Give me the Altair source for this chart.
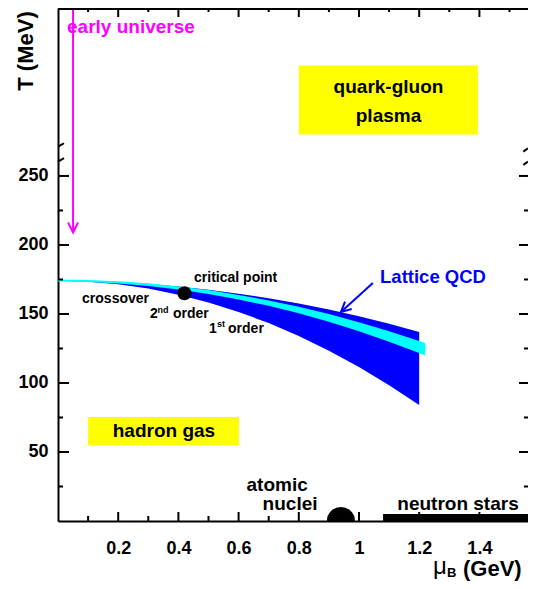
import altair as alt
import pandas as pd

# ---------------- data ----------------
# first-order transition band (blue)
band_mu = [0.0, 0.1, 0.2, 0.3, 0.4, 0.5, 0.6, 0.7, 0.8, 0.9, 1.0, 1.1, 1.2]
band_hi = [174.0, 173.7, 173.0, 171.7, 169.9, 167.6, 164.7, 161.4, 157.6, 153.2, 148.3, 142.9, 137.0]
band_lo = [174.0, 173.4, 171.5, 168.4, 164.0, 158.4, 151.5, 143.4, 134.0, 123.4, 111.5, 98.4, 84.0]

# Lattice QCD band (cyan)
lat_mu = [0.0, 0.1, 0.2, 0.3, 0.4, 0.5, 0.6, 0.7, 0.8, 0.9, 1.0, 1.1, 1.2, 1.22]
lat_hi = [175.0, 174.7, 173.8, 172.2, 170.0, 167.3, 163.8, 159.8, 155.2, 149.9, 144.0, 137.5, 130.4, 128.9]
lat_lo = [173.5, 173.1, 172.1, 170.3, 167.7, 164.5, 160.5, 155.9, 150.5, 144.3, 137.5, 129.9, 121.7, 119.9]

# critical point and atomic nuclei
crit_mu = [0.42]
crit_T = [165.0]
nuclei_mu = [0.94]
nuclei_T = [0.0]

# neutron stars bar
ns_mu = [1.08, 1.568]
ns_T = [0.0, 5.0]

# tick values
x_major = [0.2, 0.4, 0.6, 0.8, 1.0, 1.2, 1.4]
x_minor = [0.1, 0.3, 0.5, 0.7, 0.9, 1.1, 1.3, 1.5]
y_major = [50, 100, 150, 200, 250]
y_minor = [25, 75, 125, 175, 225]

# labelled boxes
box_text = ["qgp", "hadron"]
box_mu0 = [0.80, 0.10]
box_mu1 = [1.395, 0.601]
box_T0 = [280.0, 55.0]
box_T1 = [330.0, 75.4]

# annotations
big_labels = ["quark-gluon", "plasma", "hadron gas", "atomic", "nuclei", "neutron stars"]
big_mu = [1.098, 1.098, 0.352, 0.728, 0.771, 1.329]
big_T = [309.9, 289.3, 60.6, 21.7, 8.0, 8.0]

small_labels = ["critical point", "crossover", "2", "order", "1", "order"]
small_mu = [0.452, 0.080, 0.3056, 0.382, 0.5017, 0.565]
small_T = [173.0, 158.2, 146.9, 146.9, 136.0, 136.0]

sup_labels = ["nd", "st"]
sup_mu = [0.3306, 0.528]
sup_T = [150.7, 140.4]

# arrows
early_mu = [0.05, 0.05]
early_T = [371.7, 209.0]
lqcd_mu = [1.046, 0.94]
lqcd_T = [172.5, 151.4]

# break marks on the T axis
brk_mu0 = [0.0, 0.0, 1.546, 1.546]
brk_mu1 = [0.02, 0.02, 1.5615, 1.5615]
brk_T0 = [271.2, 260.4, 267.6, 258.0]
brk_T1 = [273.7, 262.9, 270.1, 260.5]

# ---------------- chart ----------------
FONT = "Liberation Sans"
W, H = 470, 513
BLUE = "#0000ff"
CYAN = "#00ffff"
MAG = "#ff00ff"
YEL = "#ffff00"

xs = alt.Scale(domain=[0, 1.5615], nice=False, zero=False)
ys = alt.Scale(domain=[0, 371.7], nice=False, zero=False)

xaxis = alt.Axis(values=x_major, format="~g", ticks=False, tickSize=0, grid=False,
                 domain=True, domainWidth=2, domainColor="black",
                 labelFont=FONT, labelFontWeight="bold", labelFontSize=18,
                 labelColor="black", labelPadding=18, labelFlush=False, title=None)
yaxis = alt.Axis(values=y_major, ticks=False, tickSize=0, grid=False,
                 domain=True, domainWidth=2, domainColor="black",
                 labelFont=FONT, labelFontWeight="bold", labelFontSize=18,
                 labelColor="black", labelPadding=10, labelFlush=False, title=None)


def X(f):
    return alt.X(f"{f}:Q", scale=xs, axis=xaxis)


def Y(f):
    return alt.Y(f"{f}:Q", scale=ys, axis=yaxis)


one = pd.DataFrame({"a": [0]})
layers = []

# boxes
boxes = pd.DataFrame({"k": box_text, "x0": box_mu0, "x1": box_mu1, "y0": box_T0, "y1": box_T1})
layers.append(alt.Chart(boxes).mark_rect(color=YEL, opacity=1).encode(
    x=X("x0"), x2="x1", y=Y("y0"), y2="y1"))

# bands
band_df = pd.DataFrame({"mu": band_mu, "lo": band_lo, "hi": band_hi})
layers.append(alt.Chart(band_df).mark_area(color=BLUE, opacity=1).encode(
    x=X("mu"), y=Y("lo"), y2="hi"))
lat_df = pd.DataFrame({"mu": lat_mu, "lo": lat_lo, "hi": lat_hi})
layers.append(alt.Chart(lat_df).mark_area(color=CYAN, opacity=1).encode(
    x=X("mu"), y=Y("lo"), y2="hi"))

# critical point
layers.append(alt.Chart(pd.DataFrame({"mu": crit_mu, "T": crit_T})).mark_circle(
    color="black", opacity=1, size=196).encode(x=X("mu"), y=Y("T")))

# atomic nuclei (half disc)
layers.append(alt.Chart(pd.DataFrame({"mu": nuclei_mu, "T": nuclei_T})).mark_circle(
    color="black", opacity=1, size=784, clip=True).encode(x=X("mu"), y=Y("T")))

# neutron stars bar
layers.append(alt.Chart(pd.DataFrame({"x0": [ns_mu[0]], "x1": [ns_mu[1]], "y0": [ns_T[0]], "y1": [ns_T[1]]})).mark_rect(
    color="black", opacity=1, clip=True).encode(x=X("x0"), x2="x1", y=Y("y0"), y2="y1"))

# arrows
arrow_shape = "M-1,-2L0,0L1,-2"
early_df = pd.DataFrame({"x0": [early_mu[0]], "x1": [early_mu[1]], "y0": [early_T[0]], "y1": [early_T[1]]})
layers.append(alt.Chart(early_df).mark_rule(color=MAG, strokeWidth=2).encode(
    x=X("x0"), x2="x1", y=Y("y0"), y2="y1"))
layers.append(alt.Chart(pd.DataFrame({"mu": [early_mu[1]], "T": [early_T[1]]})).mark_point(
    shape=arrow_shape, filled=False, stroke=MAG, strokeWidth=2, size=100, opacity=1).encode(
    x=X("mu"), y=Y("T")))
lq_df = pd.DataFrame({"x0": [lqcd_mu[0]], "x1": [lqcd_mu[1]], "y0": [lqcd_T[0]], "y1": [lqcd_T[1]]})
layers.append(alt.Chart(lq_df).mark_rule(color=BLUE, strokeWidth=2).encode(
    x=X("x0"), x2="x1", y=Y("y0"), y2="y1"))
layers.append(alt.Chart(pd.DataFrame({"mu": [lqcd_mu[1]], "T": [lqcd_T[1]]})).mark_point(
    shape=arrow_shape, filled=False, stroke=BLUE, strokeWidth=2, size=100, opacity=1, angle=48).encode(
    x=X("mu"), y=Y("T")))

# inner ticks
layers.append(alt.Chart(pd.DataFrame({"T": y_major})).mark_rule(color="black", strokeWidth=2).encode(
    y=Y("T"), x=alt.value(0), x2=alt.value(11)))
layers.append(alt.Chart(pd.DataFrame({"T": y_minor})).mark_rule(color="black", strokeWidth=2).encode(
    y=Y("T"), x=alt.value(0), x2=alt.value(5)))
layers.append(alt.Chart(pd.DataFrame({"T": y_major})).mark_rule(color="black", strokeWidth=2).encode(
    y=Y("T"), x=alt.value(W), x2=alt.value(W - 9)))
layers.append(alt.Chart(pd.DataFrame({"T": y_minor})).mark_rule(color="black", strokeWidth=2).encode(
    y=Y("T"), x=alt.value(W), x2=alt.value(W - 4)))
layers.append(alt.Chart(pd.DataFrame({"mu": x_major})).mark_rule(color="black", strokeWidth=2).encode(
    x=X("mu"), y=alt.value(H), y2=alt.value(H - 9)))
layers.append(alt.Chart(pd.DataFrame({"mu": x_minor})).mark_rule(color="black", strokeWidth=2).encode(
    x=X("mu"), y=alt.value(H), y2=alt.value(H - 5)))
layers.append(alt.Chart(pd.DataFrame({"mu": x_major})).mark_rule(color="black", strokeWidth=2).encode(
    x=X("mu"), y=alt.value(0), y2=alt.value(9)))
layers.append(alt.Chart(pd.DataFrame({"mu": x_minor})).mark_rule(color="black", strokeWidth=2).encode(
    x=X("mu"), y=alt.value(0), y2=alt.value(4)))
# top frame
layers.append(alt.Chart(one).mark_rule(color="black", strokeWidth=2).encode(
    x=alt.value(0), x2=alt.value(W), y=alt.value(1)))
# axis break marks
brk = pd.DataFrame({"x0": brk_mu0, "x1": brk_mu1, "y0": brk_T0, "y1": brk_T1})
layers.append(alt.Chart(brk).mark_rule(color="black", strokeWidth=2).encode(
    x=X("x0"), x2="x1", y=Y("y0"), y2="y1"))

# texts
big = pd.DataFrame({"mu": big_mu, "T": big_T, "label": big_labels})
layers.append(alt.Chart(big).mark_text(font=FONT, fontWeight="bold", fontSize=19, align="center",
                                        baseline="alphabetic", color="black").encode(
    x=X("mu"), y=Y("T"), text="label:N"))
small = pd.DataFrame({"mu": small_mu, "T": small_T, "label": small_labels})
layers.append(alt.Chart(small).mark_text(font=FONT, fontWeight="bold", fontSize=14, align="left",
                                          baseline="alphabetic", color="black").encode(
    x=X("mu"), y=Y("T"), text="label:N"))
sup = pd.DataFrame({"mu": sup_mu, "T": sup_T, "label": sup_labels})
layers.append(alt.Chart(sup).mark_text(font=FONT, fontWeight="bold", fontSize=9, align="left",
                                        baseline="alphabetic", color="black").encode(
    x=X("mu"), y=Y("T"), text="label:N"))
layers.append(alt.Chart(pd.DataFrame({"mu": [0.030], "T": [353.4], "label": ["early universe"]})).mark_text(
    font=FONT, fontWeight="bold", fontSize=19, align="left", baseline="alphabetic", color=MAG).encode(
    x=X("mu"), y=Y("T"), text="label:N"))
layers.append(alt.Chart(pd.DataFrame({"mu": [1.070], "T": [172.2], "label": ["Lattice QCD"]})).mark_text(
    font=FONT, fontWeight="bold", fontSize=18.5, align="left", baseline="alphabetic", color=BLUE).encode(
    x=X("mu"), y=Y("T"), text="label:N"))

# axis titles
layers.append(alt.Chart(one).mark_text(font=FONT, fontWeight="bold", fontSize=22, align="center",
                                        baseline="alphabetic", angle=270, color="black").encode(
    x=alt.value(-25), y=alt.value(43), text=alt.value("T (MeV)")))
layers.append(alt.Chart(one).mark_text(font=FONT, fontSize=24, align="left",
                                        baseline="alphabetic", color="black").encode(
    x=alt.value(375), y=alt.value(566), text=alt.value("μ")))
layers.append(alt.Chart(one).mark_text(font=FONT, fontWeight="bold", fontSize=13, align="left",
                                        baseline="alphabetic", color="black").encode(
    x=alt.value(389), y=alt.value(569), text=alt.value("B")))
layers.append(alt.Chart(one).mark_text(font=FONT, fontWeight="bold", fontSize=22, align="left",
                                        baseline="alphabetic", color="black").encode(
    x=alt.value(405), y=alt.value(568), text=alt.value("(GeV)")))

chart = alt.layer(*layers).properties(
    width=W, height=H,
    padding={"left": 50, "top": 0, "right": 0, "bottom": 60},
    autosize=alt.AutoSizeParams(type="none"),
).configure_view(stroke=None)

chart.save("out.html", embed_options={"renderer": "svg", "actions": False})
